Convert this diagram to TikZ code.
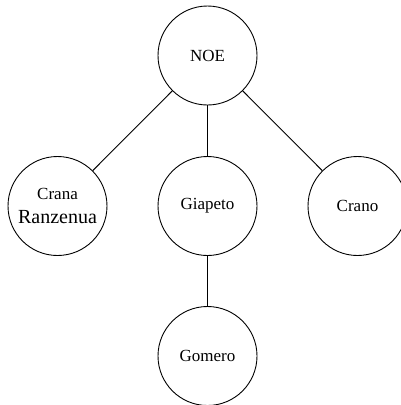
\documentclass[tikz,border=0pt]{standalone}
\usepackage{fontspec}
\setmainfont{Liberation Serif}
\begin{document}
\begin{tikzpicture}[x=1pt,y=-1pt,
  person/.style={circle,draw,line width=0.9pt,minimum size=99pt,inner sep=0pt,align=center,
    font=\fontsize{17}{20}\selectfont},
  link/.style={line width=0.9pt}]
\useasboundingbox (0,0) rectangle (401,405);
\node[person] (noe) at (207.5,55.5) {NOE};
\node[person] (crana) at (57.5,206) {Crana\\[4pt]{\fontsize{20}{24}\selectfont Ranzenua}};
\node[person] (giapeto) at (207.5,206) {Giapeto};
\node[person] (crano) at (357.5,206) {Crano};
\node[person] (gomero) at (207.5,356) {Gomero};
\draw[link] (noe) -- (crana);
\draw[link] (noe) -- (giapeto);
\draw[link] (noe) -- (crano);
\draw[link] (giapeto) -- (gomero);
\end{tikzpicture}
\end{document}
